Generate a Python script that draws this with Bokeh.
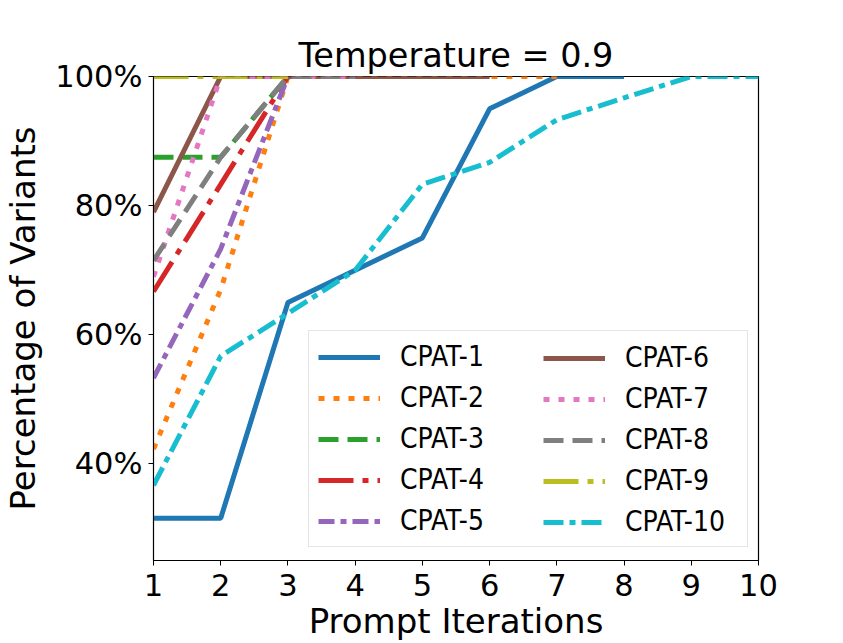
from bokeh.plotting import figure
from bokeh.models import Legend, LegendItem, Range1d, FixedTicker, PrintfTickFormatter
from bokeh.embed import file_html
from bokeh.resources import INLINE

# ---- data ----
names = ["CPAT-1", "CPAT-2", "CPAT-3", "CPAT-4", "CPAT-5",
         "CPAT-6", "CPAT-7", "CPAT-8", "CPAT-9", "CPAT-10"]
iters_1 = [1, 2, 3, 4, 5, 6, 7, 8]
cpat_1 = [31.6, 31.6, 65, 70, 75, 95, 100, 100]
iters_2 = [1, 2, 3, 4, 5, 6, 7]
cpat_2 = [42.3, 67, 100, 100, 100, 100, 100]
iters_3 = [1, 2, 3]
cpat_3 = [87.5, 87.5, 100]
iters_4 = [1, 2, 3]
cpat_4 = [66.7, 83.3, 100]
iters_5 = [1, 2, 3]
cpat_5 = [53.3, 73.3, 100]
iters_6 = [1, 2, 3, 4, 5, 6]
cpat_6 = [79, 100, 100, 100, 100, 100]
iters_7 = [1, 2, 3, 4]
cpat_7 = [69, 100, 100, 100]
iters_8 = [1, 2, 3, 4]
cpat_8 = [71.5, 87.5, 100, 100]
iters_9 = [1, 2, 3]
cpat_9 = [100, 100, 100]
iters_10 = [1, 2, 3, 4, 5, 6, 7, 8, 9, 10]
cpat_10 = [36.7, 56.7, 63.3, 70, 83.3, 86.7, 93.3, 96.7, 100, 100]

x_ticks = [1, 2, 3, 4, 5, 6, 7, 8, 9, 10]
y_ticks = [40, 60, 80, 100]

series = [(iters_1, cpat_1), (iters_2, cpat_2), (iters_3, cpat_3), (iters_4, cpat_4),
          (iters_5, cpat_5), (iters_6, cpat_6), (iters_7, cpat_7), (iters_8, cpat_8),
          (iters_9, cpat_9), (iters_10, cpat_10)]

colors = ["#1f77b4", "#ff7f0e", "#2ca02c", "#d62728", "#9467bd",
          "#8c564b", "#e377c2", "#7f7f7f", "#bcbd22", "#17becf"]
dashes = ["solid", "6 9", "20 9", "35 9 6 9", "16 6 6 6",
          "solid", "6 9", "20 9", "35 9 6 9", "20 6 6 6"]

FONT = "DejaVu Sans"
LEGEND_FONT = "DejaVu Sans Condensed, DejaVu Sans"

p = figure(width=843, height=643, output_backend="svg", toolbar_location=None,
           x_range=Range1d(1, 10), y_range=Range1d(25.05, 100),
           min_border_left=152, min_border_right=85, min_border_top=76,
           min_border_bottom=80)

p.title.text = "Temperature = 0.9"
p.title.align = "center"
p.title.text_font = FONT
p.title.text_font_size = "33.5px"
p.title.text_font_style = "normal"
p.title.text_color = "black"
p.title.standoff = 3

p.xgrid.visible = False
p.ygrid.visible = False
p.outline_line_color = "black"
p.outline_line_width = 1.2
p.background_fill_color = "white"

p.xaxis.ticker = FixedTicker(ticks=x_ticks)
p.yaxis.ticker = FixedTicker(ticks=y_ticks)
p.yaxis.formatter = PrintfTickFormatter(format="%d%%")
for ax in (p.xaxis, p.yaxis):
    ax.major_label_text_font = FONT
    ax.major_label_text_font_size = "30.5px"
    ax.major_label_text_color = "black"
    ax.axis_label_text_font = FONT
    ax.axis_label_text_font_size = "34px"
    ax.axis_label_text_font_style = "normal"
    ax.axis_label_text_color = "black"
    ax.major_tick_out = 5
    ax.major_tick_in = 0
    ax.minor_tick_line_color = None
    ax.axis_line_color = "black"
    ax.major_tick_line_color = "black"
p.xaxis.axis_label = "Prompt Iterations"
p.yaxis.axis_label = "Percentage of Variants"
p.xaxis.major_label_standoff = 8
p.yaxis.major_label_standoff = 6
p.xaxis.axis_label_standoff = 2
p.yaxis.axis_label_standoff = 9

items = []
for (xs, ys), name, c, d in zip(series, names, colors, dashes):
    r = p.line(xs, ys, line_color=c, line_width=5, line_dash=d)
    items.append(LegendItem(label=name, renderers=[r]))

common = dict(label_text_font=LEGEND_FONT, label_text_font_size="28px",
              label_text_color="black",
              glyph_width=62, glyph_height=32, label_standoff=20,
              spacing=8, padding=9, margin=0, border_line_width=1,
              border_line_color="#cccccc")

# first column carries the shared frame of the two-column legend
legend_a = Legend(items=items[:5], location=(155, 13), label_width=338,
                  background_fill_alpha=0.8, **common)
legend_b = Legend(items=items[5:], location=(381, 13), label_width=100,
                  border_line_alpha=0.0, background_fill_alpha=0.0, **common)
p.add_layout(legend_a, "center")
p.add_layout(legend_b, "center")

open("out.html", "w").write(file_html(p, INLINE))
